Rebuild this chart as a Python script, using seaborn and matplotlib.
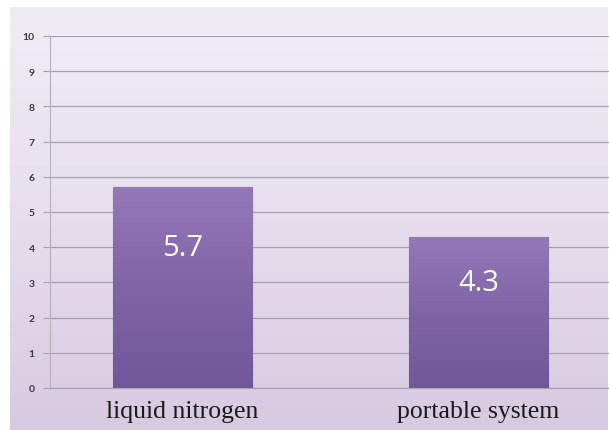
import numpy as np
import pandas as pd
import matplotlib
matplotlib.use("Agg")
import matplotlib.pyplot as plt
import seaborn as sns
from matplotlib.colors import LinearSegmentedColormap

categories = ["liquid nitrogen", "portable system"]
values = [5.7, 4.3]
yticks = [0, 1, 2, 3, 4, 5, 6, 7, 8, 9, 10]

df = pd.DataFrame({"method": categories, "value": values})

sns.set_theme(style="white")
plt.rcParams["font.family"] = ["Lato", "DejaVu Sans"]

W, H = 609, 431
fig = plt.figure(figsize=(W / 100, H / 100), dpi=100)
fig.patch.set_facecolor("white")

# background gradient panel
bg = fig.add_axes([10 / W, 0, 598 / W, (H - 8) / H], zorder=0)
bg_cmap = LinearSegmentedColormap.from_list("bg", ["#F0ECF4", "#E6DEEC", "#D6CAE1"])
bg.imshow(np.linspace(0, 1, 256).reshape(-1, 1), aspect="auto", cmap=bg_cmap,
          extent=[0, 1, 0, 1], origin="upper")
bg.axis("off")

x0, x1 = 50, 609
y_top, y_bot = 37, 389
ax = fig.add_axes([x0 / W, (H - y_bot) / H, (x1 - x0) / W, (y_bot - y_top) / H], zorder=1)
ax.patch.set_alpha(0)

sns.barplot(data=df, x="method", y="value", ax=ax, width=0.47,
            color="#8467A8", edgecolor="#6E5592", linewidth=0.8, zorder=3)

bar_cmap = LinearSegmentedColormap.from_list("bar", ["#9478B8", "#8064A6", "#71579A"])
for p in ax.patches:
    bx, by = p.get_x(), p.get_y()
    bw, bh = p.get_width(), p.get_height()
    im = ax.imshow(np.linspace(0, 1, 256).reshape(-1, 1), aspect="auto", cmap=bar_cmap,
                   extent=[bx, bx + bw, by, by + bh], origin="upper", zorder=3.5)
    im.set_clip_path(p)

for i, v in enumerate(values):
    ax.text(i, v * 0.7, f"{v}", ha="center", va="center", color="white",
            fontsize=21, family=["Open Sans", "DejaVu Sans"], zorder=5)

ax.set_ylim(0, 10)
ax.set_xlim(-(182.5 - 50) / 296, (609 - 182.5) / 296)
ax.set_yticks(yticks)
ax.set_yticklabels([str(t) for t in yticks], fontsize=7.5, color="#3a3a3a",
                   fontweight="bold")
ax.set_xticks(range(len(categories)))
ax.set_xticklabels(categories, fontsize=18.5, family=["Liberation Serif", "DejaVu Serif"],
                   color="#1a1a1a")
ax.tick_params(axis="x", length=0, pad=9)
ax.tick_params(axis="y", length=5, width=0.8, color="#A8A2B0", pad=6, left=True)
ax.grid(axis="y", color="#A8A2B0", linewidth=0.9, zorder=1)
ax.set_axisbelow(True)
ax.set_xlabel("")
ax.set_ylabel("")
for s in ["top", "right"]:
    ax.spines[s].set_visible(False)
ax.spines["left"].set_color("#B5AFBD")
ax.spines["left"].set_linewidth(0.8)
ax.spines["bottom"].set_color("#A8A2B0")
ax.spines["bottom"].set_linewidth(0.9)

fig.savefig("out.png", dpi=100, facecolor=fig.get_facecolor())
